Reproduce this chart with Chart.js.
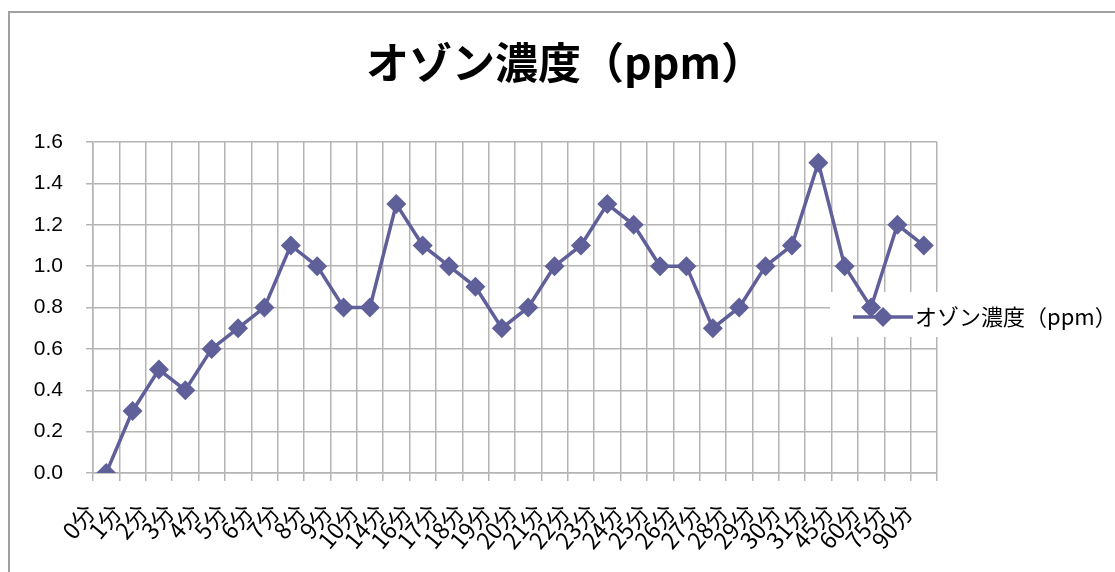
<!DOCTYPE html>
<html>
<head>
<meta charset="utf-8">
<script src="https://cdn.jsdelivr.net/npm/chart.js@4/dist/chart.umd.min.js"></script>
<style>
    html, body { margin: 0; padding: 0; background: #fff; overflow: hidden; }
    #wrap { position: relative; width: 1115px; height: 572px; }
    #frame { position: absolute; left: 8px; top: 11px; width: 1200px; height: 700px; border: 2px solid #a0a0a0; box-sizing: border-box; }
    canvas { position: absolute; left: 0; top: 0; }
</style>
</head>
<body>
<div id="wrap">
    <div id="frame"></div>
    <canvas id="chart" width="1115" height="572"></canvas>
</div>
<script>
// ================================================================
// DATOS
// ================================================================
const TITLE = 'オゾン濃度（ppm）';
const SERIES_LABEL = 'オゾン濃度（ppm）';
const minutes = [0, 1, 2, 3, 4, 5, 6, 7, 8, 9, 10, 14, 16, 17, 18, 19, 20, 21, 22, 23, 24, 25, 26, 27, 28, 29, 30, 31, 45, 60, 75, 90];
const labels = minutes.map(m => m + '分');
const ozone = [0.0, 0.3, 0.5, 0.4, 0.6, 0.7, 0.8, 1.1, 1.0, 0.8, 0.8, 1.3, 1.1, 1.0, 0.9, 0.7,
               0.8, 1.0, 1.1, 1.3, 1.2, 1.0, 1.0, 0.7, 0.8, 1.0, 1.1, 1.5, 1.0, 0.8, 1.2, 1.1];

const LINE_COLOR = '#5f5f99';
const GRID_COLOR = '#b4b4b4';
const JP_FONT = "'Noto Sans CJK JP', 'Noto Sans', sans-serif";

// título centrado en todo el lienzo (Chart.js lo centraría sobre el área con padding)
const pageTitle = {
    id: 'pageTitle',
    afterDraw(chart) {
        const ctx = chart.ctx;
        ctx.save();
        ctx.fillStyle = '#000';
        ctx.font = 'bold 43px ' + JP_FONT;
        ctx.textAlign = 'center';
        ctx.textBaseline = 'alphabetic';
        ctx.fillText(TITLE, 565, 79);
        ctx.restore();
    }
};

// leyenda dibujada a mano, encima del área del gráfico (como en Excel)
const floatingLegend = {
    id: 'floatingLegend',
    beforeDatasetsDraw(chart) {
        const ctx = chart.ctx;
        ctx.save();
        ctx.fillStyle = '#ffffff';
        ctx.fillRect(830, 292, 280, 45);
        ctx.restore();
    },
    afterDraw(chart) {
        const ctx = chart.ctx;
        const ds = chart.data.datasets[0];
        const y = 317;
        ctx.save();
        ctx.strokeStyle = ds.borderColor;
        ctx.lineWidth = 3.5;
        ctx.beginPath();
        ctx.moveTo(853, y);
        ctx.lineTo(913, y);
        ctx.stroke();
        ctx.fillStyle = ds.borderColor;
        ctx.beginPath();
        ctx.moveTo(883, y - 10);
        ctx.lineTo(893, y);
        ctx.lineTo(883, y + 10);
        ctx.lineTo(873, y);
        ctx.closePath();
        ctx.fill();
        ctx.fillStyle = '#000';
        ctx.font = '22px ' + JP_FONT;
        ctx.textBaseline = 'middle';
        ctx.fillText(ds.label, 915, y);
        ctx.restore();
    }
};

new Chart(document.getElementById('chart').getContext('2d'), {
    type: 'line',
    data: {
        labels: labels,
        datasets: [{
            label: SERIES_LABEL,
            data: ozone,
            borderColor: LINE_COLOR,
            backgroundColor: LINE_COLOR,
            borderWidth: 3.5,
            tension: 0,
            pointStyle: 'rectRot',
            pointRadius: 10,
            pointBackgroundColor: LINE_COLOR,
            pointBorderColor: LINE_COLOR,
            pointBorderWidth: 0
        }]
    },
    options: {
        responsive: false,
        animation: false,
        layout: {
            padding: { left: 0, right: 178, top: 142, bottom: 0 }
        },
        plugins: {
            legend: { display: false },
            tooltip: { enabled: false },
            title: { display: false }
        },
        scales: {
            x: {
                offset: true,
                afterFit: s => { s.height = 99; },
                grid: {
                    offset: true,
                    color: GRID_COLOR,
                    lineWidth: 1.5,
                    tickLength: 8
                },
                border: { color: GRID_COLOR, width: 1.5 },
                ticks: {
                    color: '#000',
                    font: { family: JP_FONT, size: 23 },
                    maxRotation: 50,
                    minRotation: 50,
                    autoSkip: false,
                    padding: 18,
                    labelOffset: -16
                }
            },
            y: {
                min: 0,
                max: 1.6,
                afterFit: s => { s.width = 93; },
                grid: {
                    color: GRID_COLOR,
                    lineWidth: 1.5,
                    tickLength: 7
                },
                border: { color: GRID_COLOR, width: 1.5 },
                ticks: {
                    stepSize: 0.2,
                    color: '#000',
                    font: { family: "'Liberation Sans', Arial, sans-serif", size: 21 },
                    padding: 23,
                    callback: v => v.toFixed(1)
                }
            }
        }
    },
    plugins: [pageTitle, floatingLegend]
});
</script>
</body>
</html>
